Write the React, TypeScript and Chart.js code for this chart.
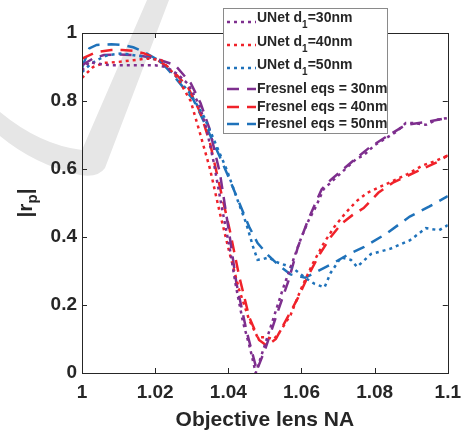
import React, { useEffect, useRef } from "react";
import { Chart, registerables } from "chart.js";
Chart.register(...registerables);

// ---- data ----
const naU30 = [1.0, 1.002, 1.004, 1.008, 1.012, 1.016, 1.02, 1.023, 1.026, 1.029, 1.032, 1.034, 1.036, 1.038, 1.0405, 1.042, 1.044, 1.046, 1.0475, 1.049, 1.052, 1.055, 1.058, 1.06, 1.062, 1.064, 1.066, 1.069, 1.072, 1.075, 1.077, 1.08, 1.083, 1.086, 1.0885, 1.091, 1.094, 1.097, 1.1];
const rU30 = [0.89, 0.915, 0.91, 0.905, 0.905, 0.905, 0.905, 0.9, 0.88, 0.85, 0.79, 0.72, 0.62, 0.5, 0.36, 0.26, 0.15, 0.07, 0.0, 0.05, 0.15, 0.25, 0.34, 0.4, 0.45, 0.49, 0.54, 0.57, 0.6, 0.63, 0.64, 0.67, 0.69, 0.71, 0.735, 0.735, 0.73, 0.745, 0.75];

const naU40 = [1.0, 1.003, 1.006, 1.01, 1.014, 1.018, 1.0217, 1.026, 1.0297, 1.032, 1.035, 1.0377, 1.0404, 1.043, 1.0457, 1.048, 1.0503, 1.0525, 1.054, 1.057, 1.06, 1.063, 1.066, 1.069, 1.072, 1.075, 1.078, 1.081, 1.085, 1.089, 1.093, 1.097, 1.1];
const rU40 = [0.868, 0.9, 0.912, 0.915, 0.92, 0.925, 0.92, 0.87, 0.8, 0.715, 0.6, 0.47, 0.35, 0.244, 0.156, 0.105, 0.105, 0.1, 0.12, 0.17, 0.25, 0.32, 0.38, 0.43, 0.47, 0.505, 0.53, 0.545, 0.565, 0.585, 0.61, 0.625, 0.64];

const naU50 = [1.0, 1.002, 1.004, 1.007, 1.011, 1.017, 1.021, 1.0254, 1.0297, 1.0334, 1.0369, 1.0396, 1.0422, 1.0449, 1.0468, 1.048, 1.0495, 1.051, 1.0535, 1.0575, 1.061, 1.0636, 1.0663, 1.068, 1.0708, 1.0735, 1.0752, 1.079, 1.0842, 1.0896, 1.094, 1.0976, 1.1];
const rU50 = [0.885, 0.905, 0.92, 0.935, 0.94, 0.93, 0.92, 0.876, 0.82, 0.753, 0.665, 0.597, 0.518, 0.44, 0.37, 0.333, 0.335, 0.34, 0.325, 0.31, 0.28, 0.262, 0.252, 0.295, 0.34, 0.333, 0.312, 0.35, 0.365, 0.39, 0.426, 0.42, 0.435];

const naF30 = [1.0, 1.003, 1.006, 1.01, 1.015, 1.02, 1.0254, 1.0275, 1.0297, 1.0324, 1.0348, 1.036, 1.0377, 1.0404, 1.0422, 1.0449, 1.0478, 1.0503, 1.0535, 1.0565, 1.059, 1.0618, 1.0655, 1.068, 1.0715, 1.0743, 1.0788, 1.0832, 1.0885, 1.0939, 1.1];
const rF30 = [0.905, 0.925, 0.935, 0.937, 0.935, 0.925, 0.906, 0.88, 0.853, 0.794, 0.72, 0.665, 0.588, 0.4, 0.265, 0.127, 0.008, 0.077, 0.18, 0.273, 0.37, 0.45, 0.54, 0.568, 0.6, 0.626, 0.665, 0.695, 0.73, 0.738, 0.75];

const naF40 = [1.0, 1.004, 1.008, 1.011, 1.014, 1.017, 1.02, 1.0235, 1.026, 1.029, 1.0324, 1.035, 1.0377, 1.0404, 1.043, 1.0457, 1.0484, 1.0505, 1.053, 1.056, 1.059, 1.062, 1.065, 1.068, 1.071, 1.074, 1.077, 1.081, 1.085, 1.089, 1.093, 1.097, 1.1];
const rF40 = [0.925, 0.944, 0.95, 0.95, 0.948, 0.94, 0.925, 0.9, 0.875, 0.84, 0.765, 0.676, 0.547, 0.42, 0.283, 0.165, 0.097, 0.08, 0.1, 0.16, 0.22, 0.29, 0.35, 0.4, 0.44, 0.465, 0.485, 0.53, 0.56, 0.58, 0.6, 0.62, 0.64];

const naF50 = [1.0, 1.002, 1.004, 1.008, 1.011, 1.014, 1.017, 1.0217, 1.026, 1.0305, 1.034, 1.0377, 1.0404, 1.043, 1.0457, 1.048, 1.051, 1.054, 1.057, 1.061, 1.0645, 1.069, 1.073, 1.077, 1.0832, 1.0896, 1.095, 1.1];
const rF50 = [0.897, 0.955, 0.965, 0.967, 0.965, 0.958, 0.944, 0.915, 0.862, 0.803, 0.724, 0.635, 0.568, 0.5, 0.43, 0.382, 0.345, 0.315, 0.29, 0.28, 0.3, 0.325, 0.35, 0.37, 0.41, 0.46, 0.49, 0.52];

const xTicks = [1, 1.02, 1.04, 1.06, 1.08, 1.1];
const yTicks = [0, 0.2, 0.4, 0.6, 0.8, 1];

const PURPLE = "#7E2F8E";
const RED = "#F0222A";
const BLUE = "#1F72BA";
const INK = "#262626";

type Series = { main: string; sub?: string; tail: string; xs: number[]; ys: number[]; color: string; dash: number[] };
const series: Series[] = [
  { main: "UNet d", sub: "1", tail: "=30nm", xs: naU30, ys: rU30, color: PURPLE, dash: [3, 4] },
  { main: "UNet d", sub: "1", tail: "=40nm", xs: naU40, ys: rU40, color: RED, dash: [3, 4] },
  { main: "UNet d", sub: "1", tail: "=50nm", xs: naU50, ys: rU50, color: BLUE, dash: [3, 4] },
  { main: "Fresnel eqs = 30nm", tail: "", xs: naF30, ys: rF30, color: PURPLE, dash: [12, 8] },
  { main: "Fresnel eqs = 40nm", tail: "", xs: naF40, ys: rF40, color: RED, dash: [12, 8] },
  { main: "Fresnel eqs = 50nm", tail: "", xs: naF50, ys: rF50, color: BLUE, dash: [12, 8] },
];

const FONT = "'Liberation Sans', Arial, Helvetica, sans-serif";

const decorPlugin = {
  id: "decor",
  beforeDraw(chart: any) {
    const ctx = chart.ctx;
    ctx.save();
    ctx.fillStyle = "#e6e6e6";
    ctx.beginPath();
    ctx.moveTo(147, 0);
    ctx.lineTo(169, 0);
    ctx.lineTo(105, 168);
    ctx.quadraticCurveTo(98, 178, 80, 175);
    ctx.quadraticCurveTo(35, 165, 0, 136);
    ctx.lineTo(0, 112);
    ctx.quadraticCurveTo(40, 145, 82, 150);
    ctx.closePath();
    ctx.fill();
    ctx.restore();
  },
  afterDraw(chart: any) {
    const ctx = chart.ctx;
    const a = chart.chartArea;
    const xs = chart.scales.x;
    const ys = chart.scales.y;
    ctx.save();
    // frame
    ctx.strokeStyle = INK;
    ctx.lineWidth = 1;
    ctx.setLineDash([]);
    ctx.strokeRect(Math.round(a.left) + 0.5, Math.round(a.top) + 0.5, Math.round(a.right - a.left), Math.round(a.bottom - a.top));
    const tl = 5;
    ctx.beginPath();
    for (const v of xTicks) {
      const px = Math.round(xs.getPixelForValue(v)) + 0.5;
      ctx.moveTo(px, a.bottom);
      ctx.lineTo(px, a.bottom - tl);
      ctx.moveTo(px, a.top);
      ctx.lineTo(px, a.top + tl);
    }
    for (const v of yTicks) {
      const py = Math.round(ys.getPixelForValue(v)) + 0.5;
      ctx.moveTo(a.left, py);
      ctx.lineTo(a.left + tl, py);
      ctx.moveTo(a.right, py);
      ctx.lineTo(a.right - tl, py);
    }
    ctx.stroke();

    // axis titles
    ctx.fillStyle = INK;
    ctx.font = `bold 21px ${FONT}`;
    ctx.textAlign = "center";
    ctx.textBaseline = "middle";
    ctx.fillText("Objective lens NA", (a.left + a.right) / 2, 420);

    ctx.save();
    ctx.translate(26, (a.top + a.bottom) / 2);
    ctx.rotate(-Math.PI / 2);
    const big = `bold 21px ${FONT}`;
    const small = `bold 15px ${FONT}`;
    ctx.font = big;
    const w1 = ctx.measureText("|r").width;
    const w3 = ctx.measureText("|").width;
    ctx.font = small;
    const w2 = ctx.measureText("p").width;
    const total = w1 + w2 + w3;
    let cx = -total / 2;
    ctx.textAlign = "left";
    ctx.font = big;
    ctx.fillText("|r", cx, 0);
    cx += w1;
    ctx.font = small;
    ctx.fillText("p", cx, 7);
    cx += w2;
    ctx.font = big;
    ctx.fillText("|", cx, 0);
    ctx.restore();

    // legend
    const lx = 223, ly = 8, lw = 164, lh = 125;
    ctx.fillStyle = "#ffffff";
    ctx.fillRect(lx, ly, lw, lh);
    ctx.strokeStyle = "#8a8a8a";
    ctx.lineWidth = 1;
    ctx.strokeRect(lx + 0.5, ly + 0.5, lw, lh);
    const textY = [18, 42, 65, 89, 107, 124];
    const sampleY = [22, 45, 68, 89, 107, 124];
    series.forEach((s, i) => {
      ctx.strokeStyle = s.color;
      ctx.lineWidth = 2.5;
      ctx.setLineDash(s.dash);
      ctx.beginPath();
      ctx.moveTo(227, sampleY[i]);
      ctx.lineTo(256, sampleY[i]);
      ctx.stroke();
      ctx.setLineDash([]);
      ctx.fillStyle = INK;
      ctx.textAlign = "left";
      ctx.textBaseline = "middle";
      let tx = 257;
      ctx.font = `bold 14px ${FONT}`;
      ctx.fillText(s.main, tx, textY[i]);
      tx += ctx.measureText(s.main).width;
      if (s.sub) {
        ctx.font = `bold 10px ${FONT}`;
        ctx.fillText(s.sub, tx, textY[i] + 7);
        tx += ctx.measureText(s.sub).width;
        ctx.font = `bold 14px ${FONT}`;
        ctx.fillText(s.tail, tx, textY[i]);
      }
    });
    ctx.restore();
  },
};

export default function App() {
  const ref = useRef<HTMLCanvasElement | null>(null);
  useEffect(() => {
    document.body.style.margin = "0";
    const canvas = ref.current;
    if (!canvas) return;
    const chart = new Chart(canvas, {
      type: "line",
      data: {
        datasets: series.map((s) => ({
          label: s.main + (s.sub || "") + s.tail,
          data: s.xs.map((x, i) => ({ x, y: s.ys[i] })),
          borderColor: s.color,
          backgroundColor: s.color,
          borderWidth: 2.5,
          borderDash: s.dash,
          pointRadius: 0,
          tension: 0,
          fill: false,
        })),
      },
      options: {
        animation: false,
        responsive: false,
        devicePixelRatio: 1,
        layout: { padding: { top: 33, right: 13, left: 0, bottom: 0 } },
        plugins: { legend: { display: false }, tooltip: { enabled: false } },
        scales: {
          x: {
            type: "linear",
            min: 1,
            max: 1.1,
            afterFit: (sc: any) => { sc.height = 59; },
            afterBuildTicks: (sc: any) => { sc.ticks = xTicks.map((v) => ({ value: v })); },
            grid: { display: true, drawOnChartArea: false, drawTicks: false, color: "rgba(0,0,0,0)" },
            border: { display: false },
            ticks: {
              padding: 8,
              color: INK,
              font: { family: FONT, size: 19, weight: "bold" },
              maxRotation: 0,
              autoSkip: false,
              callback: (v: any) => String(Number(Number(v).toFixed(2))),
            },
          },
          y: {
            type: "linear",
            min: 0,
            max: 1,
            afterFit: (sc: any) => { sc.width = 82; },
            afterBuildTicks: (sc: any) => { sc.ticks = yTicks.map((v) => ({ value: v })); },
            grid: { display: true, drawOnChartArea: false, drawTicks: false, color: "rgba(0,0,0,0)" },
            border: { display: false },
            ticks: {
              padding: 5,
              color: INK,
              font: { family: FONT, size: 19, weight: "bold" },
              callback: (v: any) => String(Number(Number(v).toFixed(1))),
            },
          },
        },
      },
      plugins: [decorPlugin],
    });
    return () => chart.destroy();
  }, []);
  return (
    <div style={{ width: 469, height: 432, background: "#fff" }}>
      <canvas ref={ref} width={469} height={432} style={{ display: "block", width: 469, height: 432 }} />
    </div>
  );
}
